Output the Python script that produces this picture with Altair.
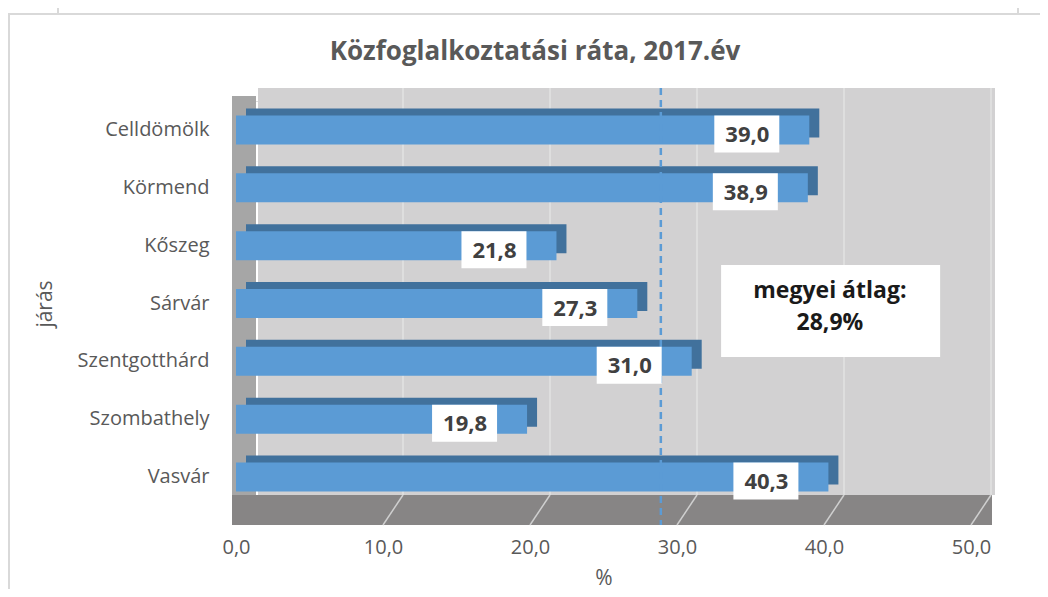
import altair as alt
import pandas as pd

categories = ["Celldömölk", "Körmend", "Kőszeg", "Sárvár", "Szentgotthárd", "Szombathely", "Vasvár"]
values = [39.0, 38.9, 21.8, 27.3, 31.0, 19.8, 40.3]
labels = ["39,0", "38,9", "21,8", "27,3", "31,0", "19,8", "40,3"]
average = 28.9
grid_values = [10, 20, 30, 40, 50]
x_ticks = [0, 10, 20, 30, 40, 50]
title_text = "Közfoglalkoztatási ráta, 2017.év"

df = pd.DataFrame({"jaras": categories, "value": values, "label": labels})
grid_df = pd.DataFrame({"g": grid_values})
one = pd.DataFrame({"a": [0]})

FONT = "Open Sans"
W, H = 735, 405
BLUE = "#5b9bd5"
DARK = "#41719c"
GREY_TXT = "#595959"

xscale = alt.Scale(domain=[0, 50], nice=False, zero=True)
yscale = alt.Scale(domain=categories, paddingInner=0.0, paddingOuter=0.0)

base = alt.Chart(df)

# frame lines (decoration)
frame_top = alt.Chart(one).mark_rule(color="#d9d9d9", strokeWidth=2).encode(
    x=alt.value(-228), x2=alt.value(812), y=alt.value(-87))
frame_left = alt.Chart(one).mark_rule(color="#d9d9d9", strokeWidth=2).encode(
    x=alt.value(-227), y=alt.value(-87), y2=alt.value(496))
frame_a = alt.Chart(one).mark_rule(color="#d9d9d9", strokeWidth=2).encode(
    x=alt.value(-178), y=alt.value(-101), y2=alt.value(-87))
frame_b = alt.Chart(one).mark_rule(color="#d9d9d9", strokeWidth=2).encode(
    x=alt.value(782), y=alt.value(-101), y2=alt.value(-87))

title = alt.Chart(pd.DataFrame({"t": [title_text]})).mark_text(
    font=FONT, fontSize=26, fontWeight="bold", color=GREY_TXT).encode(
    x=alt.value(299), y=alt.value(-49), text="t:N")

# walls
wall = alt.Chart(one).mark_rect(color="#d2d1d2").encode(
    x=alt.value(22), x2=alt.value(759), y=alt.value(-13), y2=alt.value(394))
left_wall = alt.Chart(one).mark_rect(color="#a6a6a6").encode(
    x=alt.value(-4), x2=alt.value(20), y=alt.value(-5), y2=alt.value(416))
floor = alt.Chart(one).mark_rect(color="#878585").encode(
    x=alt.value(-4), x2=alt.value(756), y=alt.value(394), y2=alt.value(424))

grid_wall = alt.Chart(grid_df).mark_rule(color="#e2e2e2", strokeWidth=1.5, xOffset=20).encode(
    x=alt.X("g:Q", scale=xscale), y=alt.value(-13), y2=alt.value(394))
grid_floor = alt.Chart(grid_df).mark_rule(color="#cfcfcf", strokeWidth=1.5, x2Offset=20).encode(
    x=alt.X("g:Q", scale=xscale), x2="g:Q", y=alt.value(424), y2=alt.value(394))

# 3D-ish shadow behind bars
shadow = base.mark_bar(color=DARK, size=29, xOffset=10, x2Offset=10, yOffset=-7).encode(
    x=alt.X("value:Q", scale=xscale), x2=alt.datum(0),
    y=alt.Y("jaras:N", scale=yscale, sort=categories))

bars = base.mark_bar(color=BLUE, size=29).encode(
    x=alt.X("value:Q", scale=xscale,
            axis=alt.Axis(values=x_ticks, labelExpr="replace(format(datum.value, '.1f'), '.', ',')",
                          title="%", grid=False, ticks=False, domain=False, labelFlush=False,
                          labelPadding=31, titlePadding=10, labelFontSize=20, titleFontSize=21,
                          labelColor=GREY_TXT, titleColor=GREY_TXT, labelFont=FONT, titleFont=FONT,
                          titleFontWeight="normal")),
    x2=alt.datum(0),
    y=alt.Y("jaras:N", scale=yscale, sort=categories,
            axis=alt.Axis(title="járás", ticks=False, domain=False, labelPadding=27,
                          titlePadding=22, labelFontSize=20, titleFontSize=21,
                          labelColor=GREY_TXT, titleColor=GREY_TXT, labelFont=FONT, titleFont=FONT,
                          titleFontWeight="normal")))

avg_line = alt.Chart(pd.DataFrame({"avg": [average]})).mark_rule(
    color=BLUE, strokeWidth=2.5, strokeDash=[7, 5]).encode(
    x=alt.X("avg:Q", scale=xscale), y=alt.value(-13), y2=alt.value(424))

label_box = base.mark_bar(color="white", size=37, xOffset=-95, x2Offset=-30, yOffset=4).encode(
    x=alt.X("value:Q", scale=xscale), x2="value:Q",
    y=alt.Y("jaras:N", scale=yscale, sort=categories))

label_text = base.mark_text(font=FONT, fontSize=22, fontWeight="bold", color="#404040",
                            xOffset=-62, yOffset=5).encode(
    x=alt.X("value:Q", scale=xscale),
    y=alt.Y("jaras:N", scale=yscale, sort=categories),
    text="label:N")

note_df = pd.DataFrame({"x1": [33.0], "x2": [47.9], "xm": [40.4],
                        "t1": ["megyei átlag:"], "t2": ["28,9%"]})
note_box = alt.Chart(note_df).mark_rect(color="white").encode(
    x=alt.X("x1:Q", scale=xscale), x2="x2:Q", y=alt.value(164), y2=alt.value(256))
note_t1 = alt.Chart(note_df).mark_text(font=FONT, fontSize=23, fontWeight="bold", color="#1a1a1a").encode(
    x=alt.X("xm:Q", scale=xscale), y=alt.value(190), text="t1:N")
note_t2 = alt.Chart(note_df).mark_text(font=FONT, fontSize=23, fontWeight="bold", color="#1a1a1a").encode(
    x=alt.X("xm:Q", scale=xscale), y=alt.value(222), text="t2:N")

chart = alt.layer(
    frame_top, frame_left, frame_a, frame_b, title,
    wall, left_wall, floor, grid_wall, grid_floor,
    shadow, bars, avg_line, label_box, label_text,
    note_box, note_t1, note_t2
).properties(
    width=W, height=H,
    autosize=alt.AutoSizeParams(type="none"),
    padding={"left": 228, "top": 93, "right": 69, "bottom": 83},
).configure_view(stroke=None, fill=None).configure(background="white")

chart.save("out.html", embed_options={"renderer": "svg", "actions": False})
